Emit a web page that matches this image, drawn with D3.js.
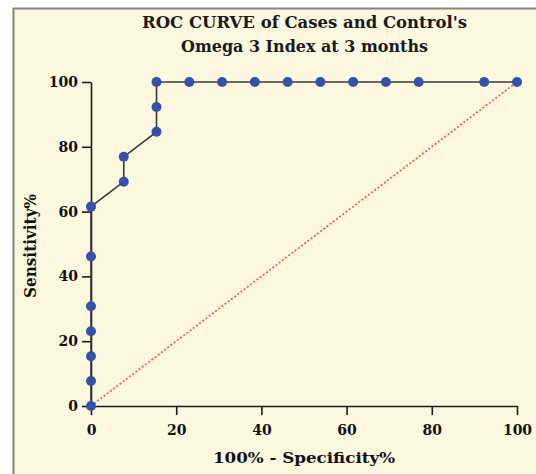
<!DOCTYPE html>
<html>
<head>
<meta charset="utf-8">
<script src="https://cdn.jsdelivr.net/npm/d3@7"></script>
<style>
  body { margin: 0; background: #ffffff; }
  svg { display: block; }
</style>
</head>
<body>
<svg id="chart" width="536" height="474"></svg>
<script>
// ROC data: 100% - specificity and sensitivity (13 cases, 13 controls)
var fpr = [0, 0, 0, 0, 0, 0, 0, 7.69, 7.69, 15.38, 15.38, 15.38, 23.08, 30.77, 38.46, 46.15, 53.85, 61.54, 69.23, 76.92, 92.31, 100];
var tpr = [0, 7.69, 15.38, 23.08, 30.77, 46.15, 61.54, 69.23, 76.92, 84.62, 92.31, 100, 100, 100, 100, 100, 100, 100, 100, 100, 100, 100];
var xTicks = [0, 20, 40, 60, 80, 100];
var yTicks = [0, 20, 40, 60, 80, 100];
var titleLines = ["ROC CURVE of Cases and Control's", "Omega 3 Index at 3 months"];

var svg = d3.select("#chart"),
    width = +svg.attr("width"),
    height = +svg.attr("height");

var font = "'DejaVu Serif', 'Liberation Serif', serif";

// cream panel with grey top/left edge
svg.append("rect")
    .attr("x", 13).attr("y", 8)
    .attr("width", width - 13).attr("height", height - 8)
    .attr("fill", "#fcf8e0");
svg.append("path")
    .attr("d", `M13.5,${height} V8.5 H${width}`)
    .attr("fill", "none")
    .attr("stroke", "#85857b")
    .attr("stroke-width", 2);

var x = d3.scaleLinear().domain([0, 100]).range([91, 517]);
var y = d3.scaleLinear().domain([0, 100]).range([406, 82]);

// axes
var xAxis = svg.append("g")
    .attr("transform", `translate(0,${y(0)})`)
    .call(d3.axisBottom(x).tickValues(xTicks).tickSize(9).tickPadding(10).tickSizeOuter(0));
var yAxis = svg.append("g")
    .attr("transform", `translate(${x(0)},0)`)
    .call(d3.axisLeft(y).tickValues(yTicks).tickSize(9).tickPadding(4).tickSizeOuter(0));

[xAxis, yAxis].forEach(function (a) {
    a.select(".domain").attr("stroke", "#1a1a1a").attr("stroke-width", 1.6);
    a.selectAll(".tick line").attr("stroke", "#1a1a1a").attr("stroke-width", 1.6);
    a.selectAll(".tick text")
        .attr("fill", "#111")
        .style("font-family", font)
        .style("font-weight", "bold")
        .style("font-size", "14px");
});

// reference diagonal
svg.append("line")
    .attr("x1", x(0)).attr("y1", y(0))
    .attr("x2", x(100)).attr("y2", y(100))
    .attr("stroke", "#f2574c")
    .attr("stroke-width", 1.7)
    .attr("stroke-dasharray", "2,2");

// ROC curve
var pts = fpr.map((d, i) => [d, tpr[i]]);
svg.append("path")
    .attr("d", d3.line().x(d => x(d[0])).y(d => y(d[1]))(pts))
    .attr("fill", "none")
    .attr("stroke", "#3a3a3a")
    .attr("stroke-width", 1.6);

svg.selectAll(".pt")
    .data(pts)
    .enter()
    .append("circle")
    .attr("class", "pt")
    .attr("cx", d => x(d[0]))
    .attr("cy", d => y(d[1]))
    .attr("r", 5)
    .attr("fill", "#3350aa");

// titles
var titleWidths = [325, 247];
svg.selectAll(".title")
    .data(titleLines)
    .enter()
    .append("text")
    .attr("x", 304.5)
    .attr("y", (d, i) => 28 + i * 24)
    .attr("text-anchor", "middle")
    .attr("textLength", (d, i) => titleWidths[i])
    .attr("lengthAdjust", "spacingAndGlyphs")
    .style("font-family", font)
    .style("font-weight", "bold")
    .style("font-size", "16px")
    .attr("fill", "#1a1a1a")
    .text(d => d);

svg.append("text")
    .attr("transform", "translate(36,246) rotate(-90)")
    .attr("text-anchor", "middle")
    .attr("textLength", 104)
    .attr("lengthAdjust", "spacingAndGlyphs")
    .style("font-family", font)
    .style("font-weight", "bold")
    .style("font-size", "17px")
    .attr("fill", "#111")
    .text("Sensitivity%");

svg.append("text")
    .attr("x", 304)
    .attr("y", 463)
    .attr("text-anchor", "middle")
    .attr("textLength", 182)
    .attr("lengthAdjust", "spacingAndGlyphs")
    .style("font-family", font)
    .style("font-weight", "bold")
    .style("font-size", "14px")
    .attr("fill", "#111")
    .text("100% - Specificity%");
</script>
</body>
</html>
